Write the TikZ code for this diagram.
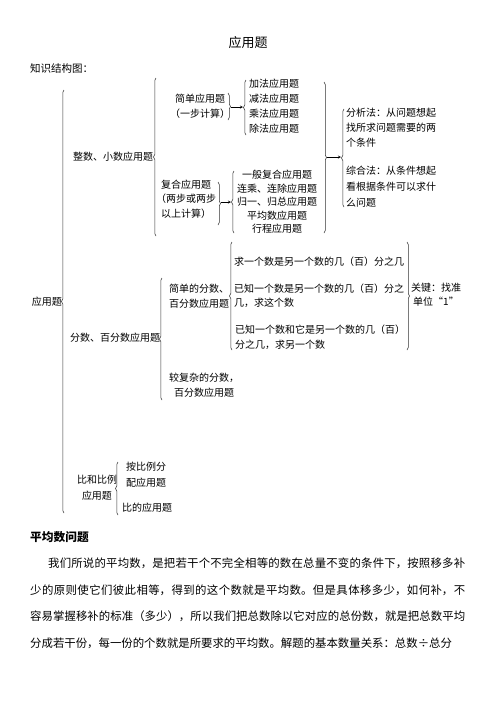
\documentclass[tikz,border=0pt]{standalone}
\usepackage{fontspec}
\setmainfont{Noto Sans CJK SC}
\usetikzlibrary{decorations.pathreplacing}
\XeTeXlinebreaklocale "zh"
\XeTeXlinebreakskip=0pt plus 1pt minus 0.1pt
\tikzset{
	bkt/.style={decorate,decoration={brace,amplitude=2.5pt},draw=black!80,line width=0.5pt},
	lbl/.style={font=\fontsize{10}{15}\selectfont,inner sep=0pt},
}
\begin{document}
\begin{tikzpicture}[x=1pt,y=-1pt,>=stealth]
	\useasboundingbox (0,0) rectangle (496,702);
	\node[inner sep=0pt,font=\fontsize{13}{15}\selectfont] (title) at (248,43) {应用题};
	\node[inner sep=0pt,anchor=west,font=\fontsize{10.5}{15}\selectfont] (kst) at (30,69) {知识结构图：};
	\node[lbl,anchor=east] (root) at (62,302) {应用题};
	\draw[bkt] (64,513)--(64,90);
	\node[lbl,anchor=west] (zs) at (73,157) {整数、小数应用题};
	\node[lbl,anchor=west] (fs) at (70,338) {分数、百分数应用题};
	\node[lbl,align=center,font=\fontsize{10}{16}\selectfont] (bl) at (97,488) {比和比例\\应用题};
	\draw[bkt] (156,236)--(156,78);
	\node[lbl,align=center] (jd) at (200,106.5) {简单应用题\\（一步计算）};
	\draw[bkt] (228,93)--(228,120);
	\draw[bkt] (246,135)--(246,80);
	\node[lbl,anchor=west,align=left] (jf) at (249,106.5) {加法应用题\\减法应用题\\乘法应用题\\除法应用题};
	\coordinate (jdR) at (231,107);
	\coordinate (jfL) at (243,107);
	\draw[->] (jdR)--(jfL);
	\node[lbl,align=center,font=\fontsize{10}{14.5}\selectfont] (fh) at (186,199) {复合应用题\\（两步或两步\\以上计算）};
	\draw[bkt] (218,182)--(218,225);
	\draw[bkt] (234,233)--(234,171);
	\node[lbl,align=center,font=\fontsize{10}{13.5}\selectfont] (yb) at (277,202) {一般复合应用题\\连乘、连除应用题\\归一、归总应用题\\平均数应用题\\行程应用题};
	\coordinate (fhR) at (221,202);
	\coordinate (ybL) at (231,202);
	\draw[->] (fhR)--(ybL);
	\draw[bkt] (324,82)--(324,233);
	\draw[bkt] (344,207)--(344,109);
	\coordinate (zsR) at (327,157);
	\coordinate (fxL) at (341,157);
	\draw[->] (zsR)--(fxL);
	\node[lbl,anchor=west,align=left] (fx) at (346,128) {分析法：从问题想起\\找所求问题需要的两\\个条件};
	\node[lbl,anchor=west,align=left,font=\fontsize{10}{16}\selectfont] (zh) at (346,186.5) {综合法：从条件想起\\看根据条件可以求什\\么问题};
	\draw[bkt] (162,400)--(162,278);
	\node[lbl,align=center] (jdf) at (199,296.5) {简单的分数、\\百分数应用题};
	\draw[bkt] (232,350)--(232,242);
	\node[lbl,anchor=west] (q1) at (234,262) {求一个数是另一个数的几（百）分之几};
	\node[lbl,anchor=west,align=left,font=\fontsize{10}{14}\selectfont] (q2) at (234,296) {已知一个数是另一个数的几（百）分之\\几，求这个数};
	\node[lbl,anchor=west,align=left] (q3) at (235,337.5) {已知一个数和它是另一个数的几（百）\\分之几，求另一个数};
	\draw[bkt] (407,242)--(407,350);
	\node[lbl,align=center,font=\fontsize{10}{14}\selectfont] (gj) at (436,295) {关键：找准\\单位“1”};
	\node[lbl,align=center] (jfz) at (204,385.5) {较复杂的分数，\\百分数应用题};
	\draw[bkt] (118,515)--(118,462);
	\node[lbl,anchor=west,align=left,font=\fontsize{10}{16}\selectfont] (ab) at (126,475) {按比例分\\配应用题};
	\node[lbl,anchor=west] (bd) at (122,508) {比的应用题};
	\node[inner sep=0pt,anchor=west,font=\fontsize{11.7}{14}\selectfont\bfseries] (pjs) at (30,537) {平均数问题};
	\node[inner sep=0pt,anchor=base west,text width=435pt,align=justify,font=\fontsize{11.4}{26.5}\selectfont] (para) at (30,567.5) {\parfillskip=0pt\hspace*{18pt}我们所说的平均数，是把若干个不完全相等的数在总量不变的条件下，按照移多补\linebreak 少的原则使它们彼此相等，得到的这个数就是平均数。但是具体移多少，如何补，不\linebreak 容易掌握移补的标准（多少），所以我们把总数除以它对应的总份数，就是把总数平均\linebreak 分成若干份，每一份的个数就是所要求的平均数。解题的基本数量关系：总数÷总分};
\end{tikzpicture}
\end{document}
